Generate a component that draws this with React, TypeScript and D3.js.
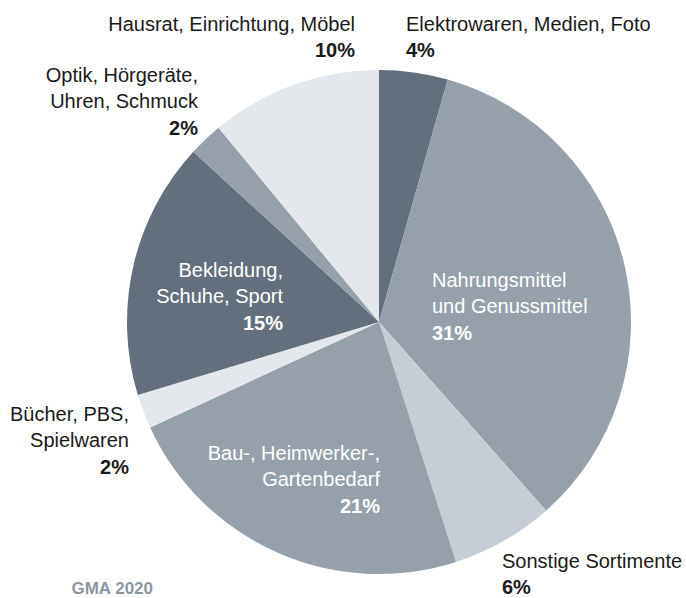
import React, { useEffect, useRef } from 'react';
import * as d3 from 'd3';

// Sortimente, clockwise from 12 o'clock
const categories = [
  ['Elektrowaren, Medien, Foto'],
  ['Nahrungsmittel', 'und Genussmittel'],
  ['Sonstige Sortimente'],
  ['Bau-, Heimwerker-,', 'Gartenbedarf'],
  ['Bücher, PBS,', 'Spielwaren'],
  ['Bekleidung,', 'Schuhe, Sport'],
  ['Optik, Hörgeräte,', 'Uhren, Schmuck'],
  ['Hausrat, Einrichtung, Möbel'],
];
const shares = [4, 31, 6, 21, 2, 15, 2, 10];
const source = 'GMA 2020';

const colors = ['#636f7c', '#95a0ab', '#c6cdd4', '#95a0ab', '#e4e7eb', '#636f7c', '#95a0ab', '#e4e7eb'];

// label anchor (x, first baseline), text-anchor, inside the pie or not
const labelLayout: [number, number, string, boolean][] = [
  [406, 31, 'start', false],
  [432, 287, 'start', true],
  [502, 568, 'start', false],
  [380, 460, 'end', true],
  [129, 421, 'end', false],
  [283, 277, 'end', true],
  [198, 82, 'end', false],
  [355, 31, 'end', false],
];

function PieChart() {
  const ref = useRef<SVGSVGElement>(null);

  useEffect(() => {
    const svg = d3.select(ref.current);
    svg.selectAll('*').remove();

    const cx = 379;
    const cy = 322;
    const radius = 252;

    const pie = d3.pie<number>().sort(null).value(d => d);
    const arc = d3.arc<d3.PieArcDatum<number>>().innerRadius(0).outerRadius(radius);

    const g = svg.append('g').attr('transform', `translate(${cx},${cy})`);
    g.selectAll('path')
      .data(pie(shares))
      .join('path')
      .attr('d', arc)
      .attr('fill', (d, i) => colors[i]);

    const lineH = 26.3;
    categories.forEach((lines, i) => {
      const [x, y, anchor, inside] = labelLayout[i];
      const t = svg.append('text')
        .attr('text-anchor', anchor)
        .attr('font-family', 'Liberation Sans, Arial, sans-serif')
        .attr('font-size', 20)
        .attr('fill', inside ? '#ffffff' : '#1a1a1a');
      lines.forEach((line, j) => {
        t.append('tspan').attr('x', x).attr('y', y + j * lineH).text(line);
      });
      t.append('tspan')
        .attr('x', x)
        .attr('y', y + lines.length * lineH)
        .attr('font-weight', 'bold')
        .text(`${shares[i]}%`);
    });

    svg.append('text')
      .attr('x', 153)
      .attr('y', 594)
      .attr('text-anchor', 'end')
      .attr('font-family', 'Liberation Sans, Arial, sans-serif')
      .attr('font-size', 17)
      .attr('font-weight', 'bold')
      .attr('fill', '#8b96a2')
      .text(source);
  }, []);

  return <svg ref={ref} width={686} height={598} style={{ display: 'block' }} />;
}

export default function App() {
  return (
    <div style={{ position: 'absolute', left: 0, top: 0 }}>
      <PieChart />
    </div>
  );
}
